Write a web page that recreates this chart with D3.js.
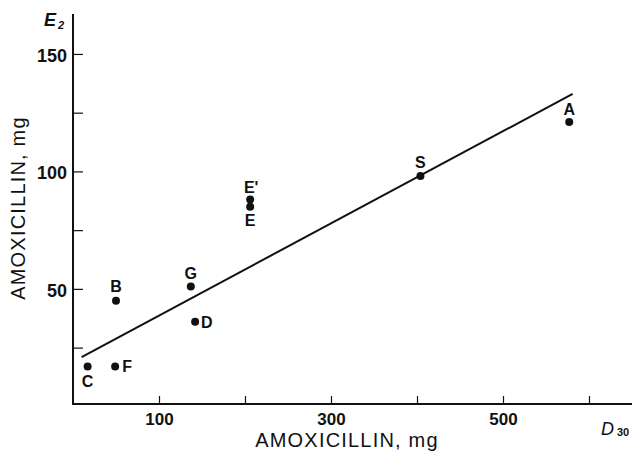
<!DOCTYPE html>
<html>
<head>
<meta charset="utf-8">
<script src="https://cdn.jsdelivr.net/npm/d3@7"></script>
<style>
  body { margin: 0; background: #fff; }
  svg text { font-family: "Liberation Sans", Arial, Helvetica, sans-serif; fill: #111; }
</style>
</head>
<body>
<div class="chart"></div>
<script>
// values
const labels = ["C", "F", "B", "G", "D", "E'", "E", "S", "A"];
const xValues = [17, 49, 50, 137, 142, 206, 206, 404, 577];   // D30 amoxicillin, mg
const yValues = [17, 17, 45, 51, 36, 88, 85, 98, 121];        // E2 amoxicillin, mg
const fitX = [10, 581];
const fitY = [21, 133];
const xTicks = [100, 200, 300, 400, 500, 600];
const xTickLabels = [100, 300, 500];
const yTicks = [25, 50, 75, 100, 125, 150];
const yTickLabels = [50, 100, 150];

// where each letter sits relative to its dot
const labelPos = {
  "C": { dx: 0, dy: 21, anchor: "middle" },
  "F": { dx: 7, dy: 6, anchor: "start" },
  "B": { dx: 0, dy: -9, anchor: "middle" },
  "G": { dx: 0, dy: -8, anchor: "middle" },
  "D": { dx: 6, dy: 6, anchor: "start" },
  "E'": { dx: 1, dy: -7, anchor: "middle" },
  "E": { dx: 0, dy: 19, anchor: "middle" },
  "S": { dx: 0, dy: -8, anchor: "middle" },
  "A": { dx: 0, dy: -7, anchor: "middle" }
};

const width = 635, height = 457;

const svg = d3.select(".chart")
  .append("svg")
  .attr("width", width)
  .attr("height", height);

const x = d3.scaleLinear().domain([0, 650]).range([73, 632]);
const y = d3.scaleLinear().domain([1, 167]).range([404, 14]);

// axes lines
svg.append("line")
  .attr("x1", x(0)).attr("x2", x(0))
  .attr("y1", y(167)).attr("y2", y(1))
  .attr("stroke", "#111").attr("stroke-width", 2);
svg.append("line")
  .attr("x1", x(0) - 1).attr("x2", x(650))
  .attr("y1", y(1)).attr("y2", y(1))
  .attr("stroke", "#111").attr("stroke-width", 2);

const yAxis = svg.append("g")
  .attr("transform", `translate(${x(0)},0)`)
  .call(d3.axisLeft(y)
    .tickValues(yTicks)
    .tickSizeInner(-10)
    .tickSizeOuter(0)
    .tickPadding(6)
    .tickFormat(d => yTickLabels.includes(d) ? d : ""));
yAxis.select(".domain").remove();
yAxis.selectAll("line").attr("stroke", "#111").attr("stroke-width", 1.2);
yAxis.selectAll("text")
  .attr("font-size", 18).attr("font-weight", "bold")
  .attr("fill", "#111").attr("dy", "0.42em");

const xAxis = svg.append("g")
  .attr("transform", `translate(0,${y(1)})`)
  .call(d3.axisBottom(x)
    .tickValues(xTicks)
    .tickSizeInner(-8)
    .tickSizeOuter(0)
    .tickPadding(21)
    .tickFormat(d => xTickLabels.includes(d) ? d : ""));
xAxis.select(".domain").remove();
xAxis.selectAll("line").attr("stroke", "#111").attr("stroke-width", 1.2);
xAxis.selectAll("text")
  .attr("font-size", 17).attr("font-weight", "bold")
  .attr("fill", "#111").attr("dy", "0em");

// axis titles
svg.append("text")
  .attr("x", 347).attr("y", 447)
  .attr("text-anchor", "middle")
  .attr("font-size", 20).attr("letter-spacing", 1.2)
  .text("AMOXICILLIN, mg");

svg.append("text")
  .attr("transform", "translate(25,208) rotate(-90)")
  .attr("text-anchor", "middle")
  .attr("font-size", 20).attr("letter-spacing", 1.2)
  .text("AMOXICILLIN, mg");

// corner labels
const e2 = svg.append("text").attr("x", 44).attr("y", 26)
  .attr("font-size", 18).attr("font-style", "italic").attr("font-weight", "bold");
e2.append("tspan").text("E");
e2.append("tspan").attr("font-size", 11).attr("dx", 2).attr("dy", 3).text("2");

const d30 = svg.append("text").attr("x", 601).attr("y", 435)
  .attr("font-size", 18).attr("font-style", "italic");
d30.append("tspan").text("D");
d30.append("tspan").attr("font-size", 11).attr("font-style", "normal")
  .attr("font-weight", "bold").attr("dx", 3).attr("dy", 1).text("30");

// regression line
svg.append("line")
  .attr("x1", x(fitX[0])).attr("y1", y(fitY[0]))
  .attr("x2", x(fitX[1])).attr("y2", y(fitY[1]))
  .attr("stroke", "#111").attr("stroke-width", 2);

// points
const pts = labels.map((l, i) => ({ label: l, x: xValues[i], y: yValues[i] }));

svg.selectAll(".dot")
  .data(pts)
  .enter()
  .append("circle")
  .attr("class", "dot")
  .attr("cx", d => x(d.x))
  .attr("cy", d => y(d.y))
  .attr("r", 4)
  .attr("fill", "#111");

svg.selectAll(".lbl")
  .data(pts)
  .enter()
  .append("text")
  .attr("class", "lbl")
  .attr("x", d => x(d.x) + labelPos[d.label].dx)
  .attr("y", d => y(d.y) + labelPos[d.label].dy)
  .attr("text-anchor", d => labelPos[d.label].anchor)
  .attr("font-size", 16)
  .attr("font-weight", "bold")
  .text(d => d.label);
</script>
</body>
</html>
